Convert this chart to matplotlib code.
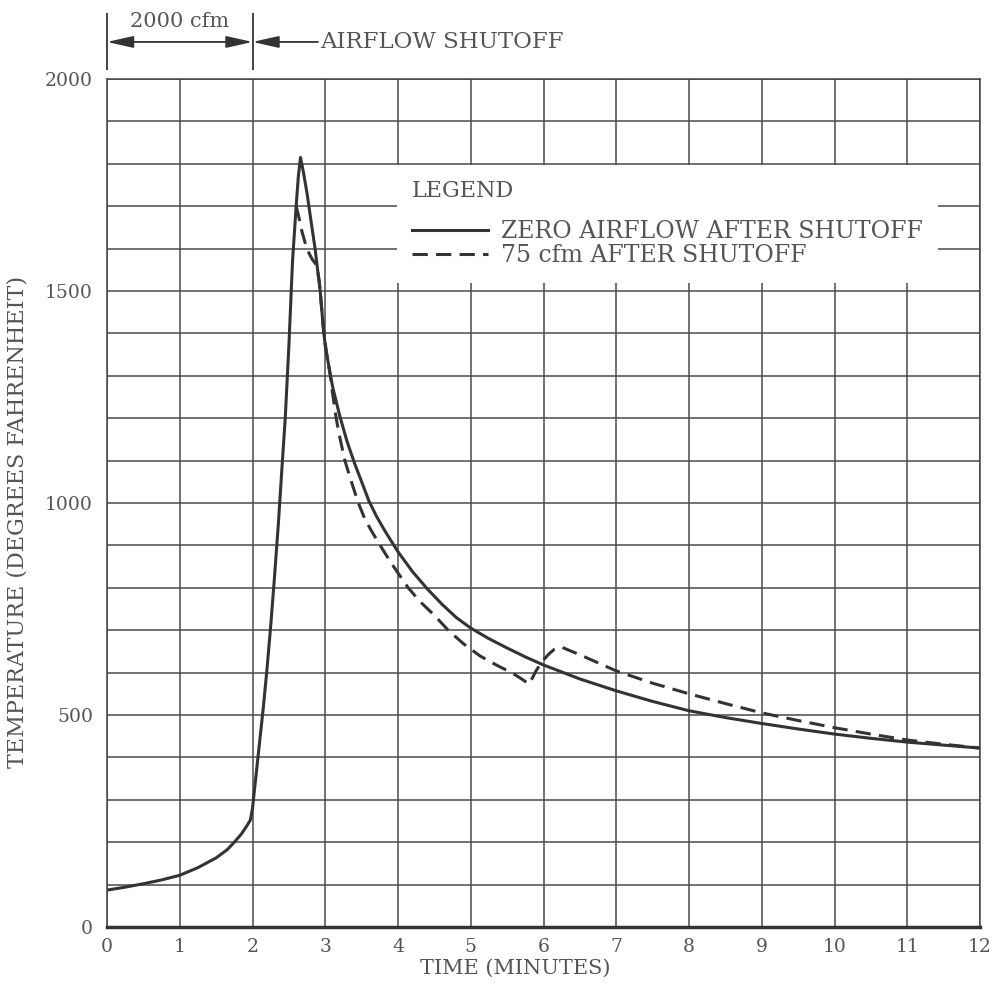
import matplotlib
matplotlib.use('Agg')
import matplotlib.pyplot as plt
import numpy as np

# solid curve: zero airflow after shutoff
time_zero = [0, 0.25, 0.5, 0.75, 1.0, 1.25, 1.5, 1.65, 1.75, 1.85, 1.92, 1.97, 2.0,
             2.05, 2.1, 2.15, 2.2, 2.25, 2.3, 2.355, 2.4, 2.45, 2.5, 2.55, 2.6,
             2.63, 2.66, 2.7, 2.75, 2.8, 2.86, 2.93, 2.97, 3.0, 3.1, 3.2, 3.3,
             3.4, 3.5, 3.6, 3.7, 3.8, 3.9, 4.0, 4.2, 4.4, 4.6, 4.8, 5.0, 5.25,
             5.5, 5.75, 6.0, 6.5, 7.0, 7.5, 8.0, 8.5, 9.0, 9.5, 10.0, 10.5,
             11.0, 11.5, 12.0]
temp_zero = [87, 94, 102, 111, 122, 140, 163, 182, 200, 220, 238, 252, 280,
             360, 440, 520, 610, 710, 820, 950, 1070, 1200, 1370, 1570, 1700,
             1770, 1815, 1780, 1730, 1670, 1600, 1500, 1420, 1370, 1275, 1205, 1145,
             1095, 1050, 1005, 970, 940, 912, 885, 838, 798, 762, 730, 705, 680,
             658, 637, 618, 585, 557, 532, 510, 494, 480, 467, 455, 445,
             436, 429, 422]

# dashed curve: 75 cfm after shutoff
time_75 = [2.6, 2.63, 2.68, 2.75, 2.82, 2.885, 2.92, 2.95, 2.98, 3.03, 3.07, 3.1,
           3.15, 3.2, 3.27, 3.35, 3.455, 3.55, 3.65, 3.755, 3.9, 4.0, 4.14, 4.3,
           4.5, 4.69, 4.9, 5.13, 5.35, 5.58, 5.7, 5.8, 5.84, 5.9, 5.95, 6.0,
           6.08, 6.15, 6.25, 6.5, 7.0, 7.5, 8.0, 8.5, 9.0, 9.5, 10.0, 10.5,
           11.0, 11.5, 12.0]
temp_75 = [1700, 1680, 1640, 1598, 1575, 1560, 1520, 1460, 1400, 1340, 1300, 1260,
           1200, 1155, 1100, 1055, 1000, 960, 930, 900, 860, 835, 800, 768,
           735, 700, 668, 639, 618, 598, 585, 573, 585, 605, 618, 630,
           645, 655, 660, 642, 604, 575, 550, 527, 505, 487, 470, 455,
           441, 431, 422]

x_ticks = list(range(13))
y_ticks = [0, 500, 1000, 1500, 2000]

ink = '#333333'
txt = '#555555'
serif = ['DejaVu Serif']

fig = plt.figure(figsize=(10, 9.89), dpi=100)
ax = fig.add_axes([0.107, 1 - 927 / 989, 0.873, 848 / 989])

ax.set_xlim(0, 12)
ax.set_ylim(0, 2000)
ax.set_xticks(x_ticks)
ax.set_yticks(y_ticks)
ax.set_yticks(np.arange(0, 2001, 100), minor=True)
ax.grid(True, which='both', color='#4a4a4a', lw=1.1)
ax.set_axisbelow(True)
ax.tick_params(which='both', length=0, colors=txt, labelsize=13.5)
ax.tick_params(axis='x', pad=8)
ax.tick_params(axis='y', pad=10)
for lab in ax.get_xticklabels() + ax.get_yticklabels():
    lab.set_fontfamily('DejaVu Serif')
for s in ax.spines.values():
    s.set_color('#444444')
    s.set_linewidth(1.1)
ax.spines['bottom'].set_linewidth(2.5)
ax.spines['bottom'].set_color('#333333')

l1, = ax.plot(time_zero, temp_zero, color=ink, lw=2.2, solid_joinstyle='round')
l2, = ax.plot(time_75, temp_75, color=ink, lw=2.2, ls=(0, (5, 2.7)))

ax.set_xlabel('TIME (MINUTES)', family=serif, fontsize=15, color=txt)
ax.xaxis.set_label_coords(0.468, -0.037)
ax.set_ylabel('TEMPERATURE (DEGREES FAHRENHEIT)', family=serif, fontsize=16,
              color=txt)
ax.yaxis.set_label_coords(-0.09, 0.478)

leg = ax.legend([l1, l2], ['ZERO AIRFLOW AFTER SHUTOFF', '75 cfm AFTER SHUTOFF'],
                title='LEGEND', loc='upper left', bbox_to_anchor=(0.332, 0.899),
                frameon=True, fancybox=False, framealpha=1, facecolor='white',
                edgecolor='none', handlelength=3.2, handletextpad=0.55,
                labelspacing=0.05, borderpad=0.65, borderaxespad=0,
                alignment='left', prop={'family': 'DejaVu Serif', 'size': 17})
leg.get_title().set_fontfamily('DejaVu Serif')
leg.get_title().set_fontsize(16)
leg.get_title().set_color(txt)
leg._legend_box.sep = 13
for t in leg.get_texts():
    t.set_color(txt)

# airflow markers above the plot
trans = ax.get_xaxis_transform()
ax.vlines([0, 2], 1.0106, 1.0778, transform=trans, clip_on=False, color=ink, lw=1.3)
ax.annotate('', xy=(0, 1.0437), xytext=(2, 1.0437), xycoords=trans,
            arrowprops=dict(arrowstyle='<|-|>,head_length=0.8,head_width=0.18',
                            mutation_scale=20, color=ink, lw=1.3,
                            shrinkA=0, shrinkB=0))
ax.annotate('', xy=(2, 1.0437), xytext=(2.9, 1.0437), xycoords=trans,
            arrowprops=dict(arrowstyle='-|>,head_length=0.8,head_width=0.18',
                            mutation_scale=20, color=ink, lw=1.3,
                            shrinkA=0, shrinkB=0))
ax.text(1.0, 1.0676, '2000 cfm', transform=trans, ha='center', va='center',
        family=serif, fontsize=15, color=txt)
ax.text(2.93, 1.0437, 'AIRFLOW SHUTOFF', transform=trans, ha='left', va='center',
        family=serif, fontsize=16.5, color=txt)

fig.savefig('out.png', dpi=100, facecolor='white')
